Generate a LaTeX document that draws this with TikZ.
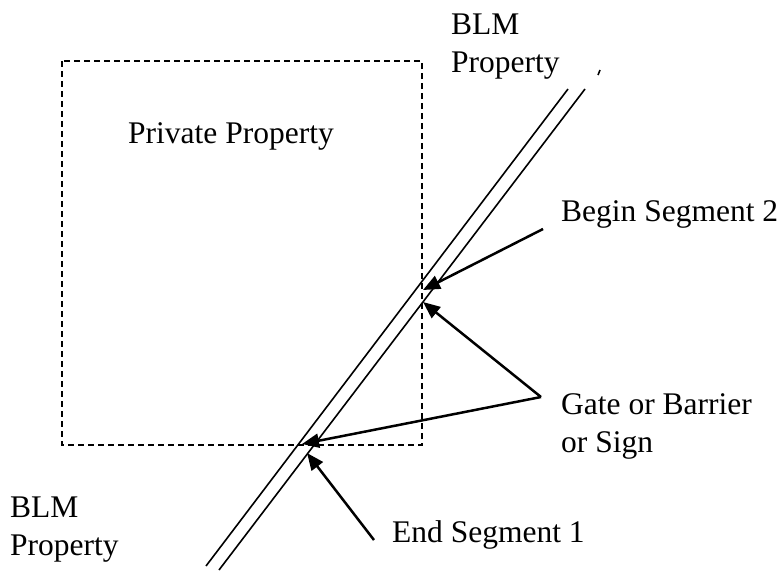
\documentclass[tikz,border=0pt]{standalone}
\usepackage{fontspec}
\setmainfont{Liberation Serif}
\usetikzlibrary{arrows.meta}
\begin{document}
\begin{tikzpicture}[x=1pt,y=-1pt,
  lbl/.style={inner sep=0pt,align=left,font=\fontsize{31.5}{38}\selectfont},
  road/.style={line width=1.6pt},
  boundary/.style={line width=1.6pt,dash pattern=on 6pt off 4pt},
  pointer/.style={line width=2.5pt,-{Triangle[length=17pt,width=14pt]}}]
\useasboundingbox (0,0) rectangle (783,571);
% private property boundary
\draw[boundary] (62,61) rectangle (422,445);
% road
\draw[road] (206,566) -- (568,89);
\draw[road] (219,570) -- (585,89);
\draw[road] (598,75) -- (600,70);
% labels
\node[lbl,anchor=north west] (blmtop) at (451,14) {BLM\\Property};
\node[lbl,anchor=base west] (priv) at (128,143) {Private Property};
\node[lbl,anchor=base west] (begin) at (561,221) {Begin Segment 2};
\node[lbl,anchor=north west] (gate) at (561,393) {Gate or Barrier\\or Sign};
\node[lbl,anchor=north west] (blmbot) at (10,497) {BLM\\Property};
\node[lbl,anchor=base west] (endseg) at (392,542) {End Segment 1};
% arrow points
\coordinate (bs) at (543,229);
\coordinate (bt) at (423,290);
\coordinate (gs) at (541,397);
\coordinate (gt1) at (423,302);
\coordinate (gt2) at (302,444);
\coordinate (es) at (374,540);
\coordinate (et) at (307,453);
\draw[pointer] (bs) -- (bt);
\draw[pointer] (gs) -- (gt1);
\draw[pointer] (gs) -- (gt2);
\draw[pointer] (es) -- (et);
\end{tikzpicture}
\end{document}
